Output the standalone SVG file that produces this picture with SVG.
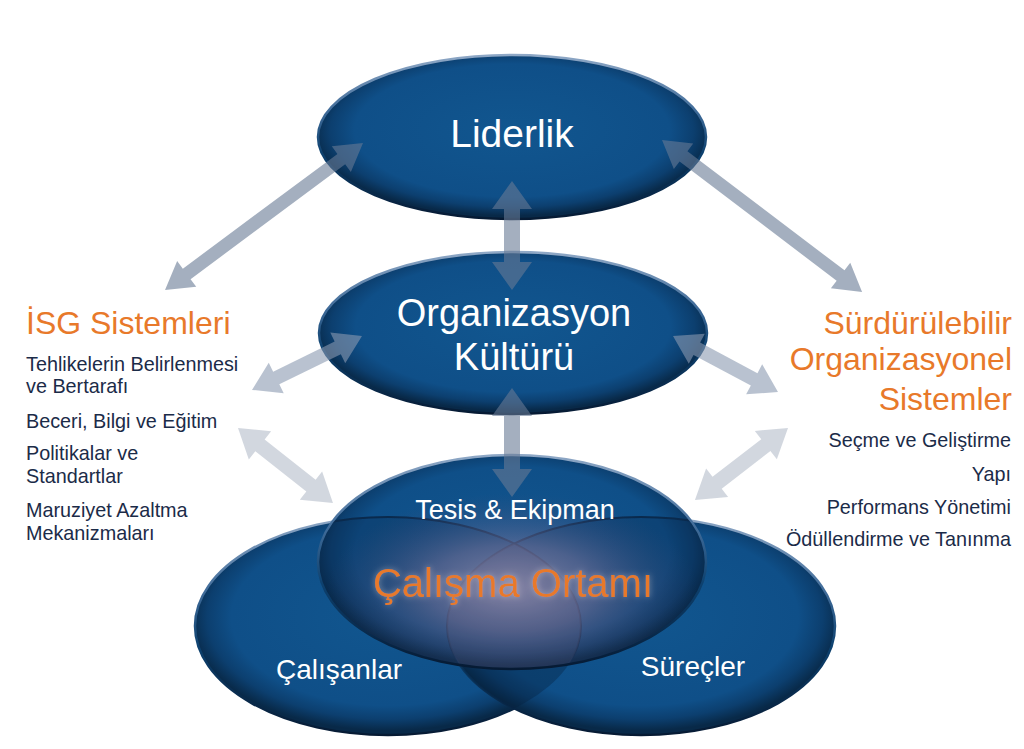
<svg xmlns="http://www.w3.org/2000/svg" width="1024" height="749" viewBox="0 0 1024 749">
<defs>
<radialGradient id="eg" cx="50%" cy="46%" r="52%">
<stop offset="0" stop-color="#11568f"/>
<stop offset="0.78" stop-color="#0f4f88"/>
<stop offset="0.9" stop-color="#0c3f6f"/>
<stop offset="1" stop-color="#082948"/>
</radialGradient>
<linearGradient id="rim" x1="0" y1="0" x2="0" y2="1">
<stop offset="0" stop-color="#8fa8c6"/>
<stop offset="0.35" stop-color="#3e6a98"/>
<stop offset="0.6" stop-color="#0d416f"/>
<stop offset="1" stop-color="#061a33"/>
</linearGradient>
<radialGradient id="glow" cx="50%" cy="50%" r="50%">
<stop offset="0" stop-color="#9a93b2" stop-opacity="0.85"/>
<stop offset="0.45" stop-color="#76729a" stop-opacity="0.6"/>
<stop offset="1" stop-color="#3d4a78" stop-opacity="0"/>
</radialGradient>
<clipPath id="clipL"><ellipse cx="388" cy="626" rx="193" ry="109"/></clipPath>
<clipPath id="clipR"><ellipse cx="641" cy="626" rx="194" ry="109"/></clipPath>
<clipPath id="clipT"><ellipse cx="512" cy="562" rx="194" ry="107"/></clipPath>
<filter id="tglow" x="-20%" y="-40%" width="140%" height="180%">
<feGaussianBlur in="SourceAlpha" stdDeviation="3" result="b"/>
<feFlood flood-color="#f4e6e0" flood-opacity="0.45"/>
<feComposite in2="b" operator="in" result="g"/>
<feMerge><feMergeNode in="g"/><feMergeNode in="SourceGraphic"/></feMerge>
</filter>
<style>
.ell{fill:url(#eg);stroke:url(#rim);stroke-width:2.5}
.wt{font-family:"Liberation Sans",Arial,sans-serif;fill:#ffffff;text-anchor:middle}
.or{font-family:"Liberation Sans",Arial,sans-serif;fill:#e8792a}
.lst{font-family:"Liberation Sans",Arial,sans-serif;fill:#1b2b48}
.a1{fill:#677a94;fill-opacity:0.6}
.a2{fill:#8b9ab0;fill-opacity:0.6}
.a3{fill:#b4bcca;fill-opacity:0.6}
</style>
</defs>
<rect width="1024" height="749" fill="#ffffff"/>

<g id="node-liderlik">
<ellipse class="ell" cx="512" cy="137" rx="194" ry="82"/>
<text class="wt" x="512" y="147" font-size="39">Liderlik</text>
</g>

<g id="node-organizasyon">
<ellipse class="ell" cx="513" cy="333" rx="194" ry="81"/>
<text class="wt" x="514" y="326" font-size="38">Organizasyon</text>
<text class="wt" x="514" y="370" font-size="38">Kültürü</text>
</g>

<g id="node-calisanlar">
<ellipse class="ell" cx="388" cy="626" rx="193" ry="109"/>
<text class="wt" x="339" y="679" font-size="28">Çalışanlar</text>
</g>

<g id="node-surecler">
<ellipse class="ell" cx="641" cy="626" rx="194" ry="109"/>
<ellipse cx="641" cy="626" rx="194" ry="109" fill="#061f3d" fill-opacity="0.35" clip-path="url(#clipL)"/>
<text class="wt" x="693" y="676" font-size="28">Süreçler</text>
</g>

<g id="node-tesis">
<ellipse cx="512" cy="562" rx="194" ry="107" fill="url(#eg)"/>
<g clip-path="url(#clipT)">
<ellipse cx="388" cy="626" rx="193" ry="109" fill="#06203f" fill-opacity="0.25" stroke="#0a2a4d" stroke-width="2"/>
<ellipse cx="641" cy="626" rx="194" ry="109" fill="#06203f" fill-opacity="0.25" stroke="#0a2a4d" stroke-width="2"/>
<ellipse cx="512" cy="588" rx="185" ry="95" fill="url(#glow)"/>
<ellipse cx="641" cy="626" rx="194" ry="109" fill="#8a7a9a" fill-opacity="0.12" clip-path="url(#clipL)"/>
</g>
<ellipse cx="512" cy="562" rx="194" ry="107" fill="none" stroke="url(#rim)" stroke-width="2.5"/>
<text class="wt" x="515" y="519" font-size="27">Tesis &amp; Ekipman</text>
</g>

<g id="node-calisma-ortami">
<text class="or" x="513" y="597" font-size="40" text-anchor="middle" filter="url(#tglow)">Çalışma Ortamı</text>
</g>

<g id="node-isg">
<text class="or" x="26" y="334" font-size="32">İSG Sistemleri</text>
<text class="lst" x="26" y="371" font-size="19.8">Tehlikelerin Belirlenmesi</text>
<text class="lst" x="26" y="393" font-size="19.8">ve Bertarafı</text>
<text class="lst" x="26" y="428" font-size="19.8">Beceri, Bilgi ve Eğitim</text>
<text class="lst" x="26" y="460" font-size="19.8">Politikalar ve</text>
<text class="lst" x="26" y="483" font-size="19.8">Standartlar</text>
<text class="lst" x="26" y="517" font-size="19.8">Maruziyet Azaltma</text>
<text class="lst" x="26" y="540" font-size="19.8">Mekanizmaları</text>
</g>

<g id="node-surdurulebilir">
<text class="or" x="1012" y="334" font-size="32" text-anchor="end">Sürdürülebilir</text>
<text class="or" x="1012" y="370" font-size="32" text-anchor="end">Organizasyonel</text>
<text class="or" x="1012" y="410" font-size="32" text-anchor="end">Sistemler</text>
<text class="lst" x="1011" y="447" font-size="19.8" text-anchor="end">Seçme ve Geliştirme</text>
<text class="lst" x="1011" y="481" font-size="19.8" text-anchor="end">Yapı</text>
<text class="lst" x="1011" y="514" font-size="19.8" text-anchor="end">Performans Yönetimi</text>
<text class="lst" x="1011" y="546" font-size="19.8" text-anchor="end">Ödüllendirme ve Tanınma</text>
</g>

<g id="connectors">
<path class="a1" transform="translate(363,143) rotate(143.4)" d="M0,0 L27,-16 L27,-6.5 L219.6,-6.5 L219.6,-16 L246.6,0 L219.6,16 L219.6,6.5 L27,6.5 L27,16 Z"/>
<path class="a1" transform="translate(662,140) rotate(37.2)" d="M0,0 L27,-16 L27,-6.5 L224.2,-6.5 L224.2,-16 L251.2,0 L224.2,16 L224.2,6.5 L27,6.5 L27,16 Z"/>
<path class="a1" transform="translate(512,181) rotate(90)" d="M0,0 L28,-20 L28,-8 L81,-8 L81,-20 L109,0 L81,20 L81,8 L28,8 L28,20 Z"/>
<path class="a1" transform="translate(512,388) rotate(90)" d="M0,0 L28,-20 L28,-8 L81,-8 L81,-20 L109,0 L81,20 L81,8 L28,8 L28,20 Z"/>
<path class="a2" transform="translate(362,336) rotate(153.9)" d="M0,0 L27,-17 L27,-7 L95.5,-7 L95.5,-17 L122.5,0 L95.5,17 L95.5,7 L27,7 L27,17 Z"/>
<path class="a2" transform="translate(673,336) rotate(28.1)" d="M0,0 L27,-17 L27,-7 L92,-7 L92,-17 L119,0 L92,17 L92,7 L27,7 L27,17 Z"/>
<path class="a3" transform="translate(238,428) rotate(38.3)" d="M0,0 L28,-18 L28,-7.5 L93,-7.5 L93,-18 L121,0 L93,18 L93,7.5 L28,7.5 L28,18 Z"/>
<path class="a3" transform="translate(788,428) rotate(142.3)" d="M0,0 L28,-18 L28,-7.5 L89.6,-7.5 L89.6,-18 L117.6,0 L89.6,18 L89.6,7.5 L28,7.5 L28,18 Z"/>
</g>
</svg>
